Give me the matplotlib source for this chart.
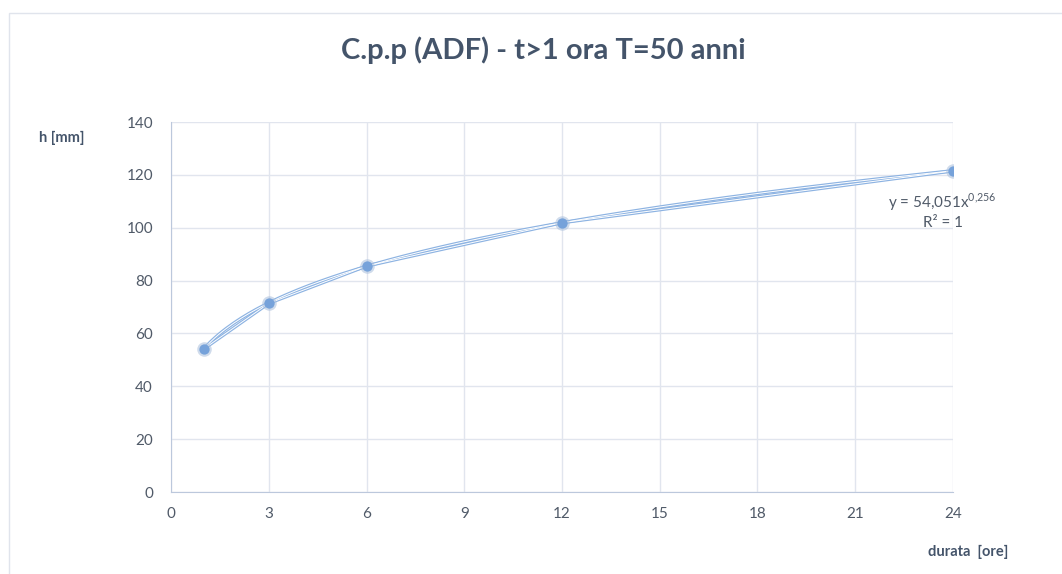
import numpy as np
import matplotlib.pyplot as plt
from matplotlib.patches import Rectangle

# dati
durata = [1, 3, 6, 12, 24]
h_mm = [54.1, 71.4, 85.5, 101.9, 121.5]
xticks = [0, 3, 6, 9, 12, 15, 18, 21, 24]
yticks = [0, 20, 40, 60, 80, 100, 120, 140]

# curva di tendenza (potenza) dai dati
b, loga = np.polyfit(np.log(durata), np.log(h_mm), 1)
xt = np.linspace(1, 24, 200)
yt = np.exp(loga) * xt ** b

plt.rcParams['font.family'] = ['Lato', 'DejaVu Sans']
plt.rcParams['mathtext.fontset'] = 'custom'
plt.rcParams['mathtext.rm'] = 'Lato'
txt = '#44546a'

fig = plt.figure(figsize=(10.62, 5.74), dpi=100)
fig.patches.append(Rectangle((9 / 1062, -0.01), 1.02, 1 - 13 / 574 + 0.01,
                             transform=fig.transFigure, fill=False,
                             edgecolor='#e0e4ec', lw=1))
ax = fig.add_axes([171 / 1062, 1 - 492 / 574, 782 / 1062, 370 / 574])

blue = '#8db3e2'
# linee "doppie" stile Excel
for xs, ys in [(durata, h_mm), (xt, yt)]:
    ax.plot(xs, ys, color=blue, lw=2.4, zorder=3, solid_capstyle='round')
    ax.plot(xs, ys, color='white', lw=0.7, zorder=4, solid_capstyle='round')
ax.scatter(durata, h_mm, s=110, color='#a9bfdc', alpha=0.55, zorder=5, lw=0)
ax.scatter(durata, h_mm, s=55, color='#76a2da', zorder=6, lw=0)

ax.set_xlim(0, 24)
ax.set_ylim(0, 140)
ax.set_xticks(xticks)
ax.set_yticks(yticks)
ax.grid(True, color='#e1e5ee', lw=1)
ax.set_axisbelow(True)
for s in ['top', 'right']:
    ax.spines[s].set_visible(False)
for s in ['left', 'bottom']:
    ax.spines[s].set_color('#bcc8dc')
ax.tick_params(length=0, labelsize=11, colors='#505a68')
ax.tick_params(axis='y', pad=13)
ax.tick_params(axis='x', pad=11)

fig.text(543 / 1062, 1 - 59 / 574, 'C.p.p (ADF) - t>1 ora T=50 anni', ha='center',
         va='baseline', fontsize=21, fontweight='bold', color=txt)
fig.text(62 / 1062, 1 - 138 / 574, 'h [mm]', ha='center', va='center',
         fontsize=10.5, fontweight='bold', color=txt)
fig.text(968 / 1062, 1 - 552 / 574, 'durata  [ore]', ha='center', va='center',
         fontsize=10.5, fontweight='bold', color=txt)
ax.text(23.66, 109.7, r'y = 54,051x$^{\mathregular{0{,}256}}$', ha='center', va='center',
        fontsize=11, color='#505a68')
ax.text(23.69, 101.8, 'R² = 1', ha='center', va='center', fontsize=11, color='#505a68')

fig.savefig('out.png', dpi=100)
